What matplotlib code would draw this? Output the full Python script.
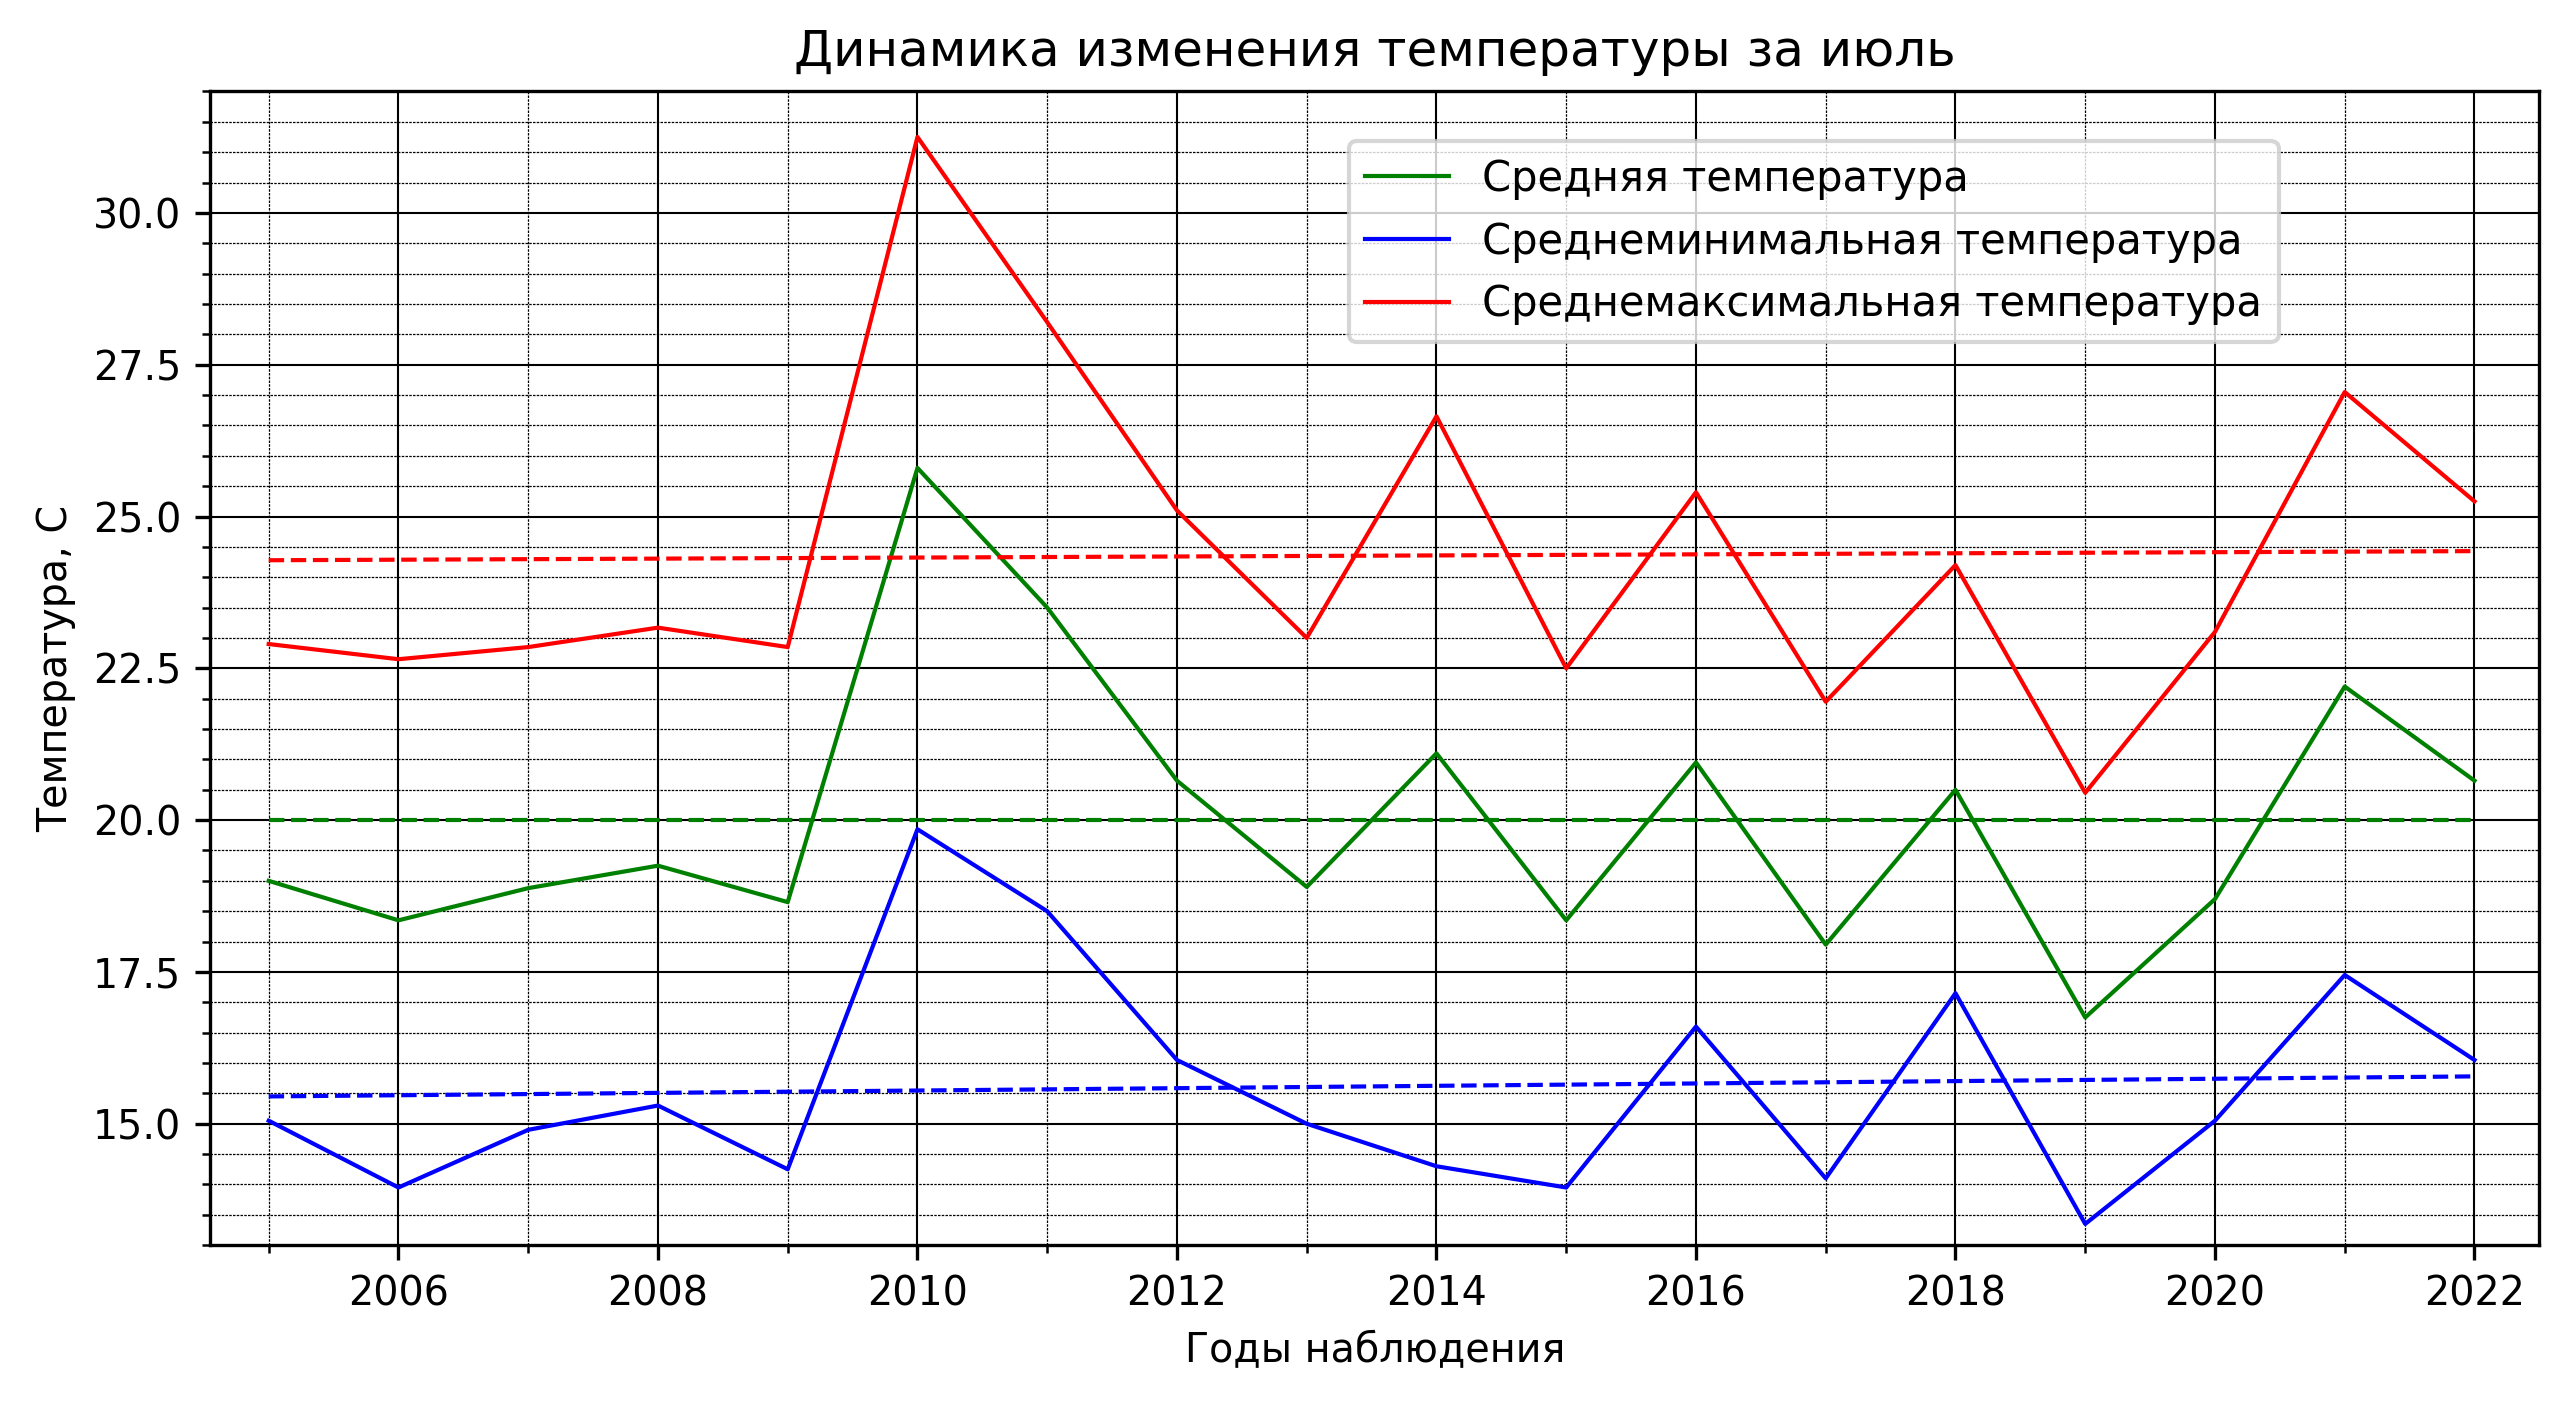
import matplotlib.pyplot as plt
from matplotlib.ticker import MultipleLocator

years = list(range(2005, 2023))
t_mean = [19.0, 18.35, 18.88, 19.25, 18.65, 25.8, 23.5, 20.65, 18.9, 21.1,
          18.35, 20.95, 17.95, 20.5, 16.75, 18.7, 22.2, 20.65]
t_min = [15.05, 13.95, 14.9, 15.3, 14.25, 19.85, 18.5, 16.05, 15.0, 14.3,
         13.95, 16.6, 14.1, 17.15, 13.35, 15.05, 17.45, 16.05]
t_max = [22.9, 22.65, 22.85, 23.17, 22.85, 31.25, 28.2, 25.1, 23.0, 26.65,
         22.5, 25.4, 21.95, 24.2, 20.45, 23.1, 27.05, 25.25]
# trend lines (start, end)
trend_mean = [20.0, 20.0]
trend_min = [15.45, 15.78]
trend_max = [24.28, 24.43]

fig, ax = plt.subplots(figsize=(8.55, 4.69), dpi=300)

ax.plot(years, t_mean, color='green', linewidth=1, label='Средняя температура')
ax.plot(years, t_min, color='blue', linewidth=1, label='Среднеминимальная температура')
ax.plot(years, t_max, color='red', linewidth=1, label='Среднемаксимальная температура')
ends = [years[0], years[-1]]
ax.plot(ends, trend_mean, color='green', linestyle='--', linewidth=1)
ax.plot(ends, trend_min, color='blue', linestyle='--', linewidth=1)
ax.plot(ends, trend_max, color='red', linestyle='--', linewidth=1)

ax.xaxis.set_major_locator(MultipleLocator(2))
ax.xaxis.set_minor_locator(MultipleLocator(1))
ax.yaxis.set_major_locator(MultipleLocator(2.5))
ax.yaxis.set_minor_locator(MultipleLocator(0.5))
ax.grid(which='major', color='black', linestyle='-', linewidth=0.5)
ax.grid(which='minor', color='black', linestyle='--', linewidth=0.3, dashes=(2, 1))
ax.set_xlim(2004.55, 2022.5)
ax.set_ylim(13.0, 32.0)

ax.set_title('Динамика изменения температуры за июль', fontsize=12)
ax.set_xlabel('Годы наблюдения', fontsize=9.5)
ax.set_ylabel('Температура, С', fontsize=9.5)
ax.tick_params(labelsize=9.5)
ax.legend(loc='upper right', bbox_to_anchor=(0.897, 0.975), fontsize=10)

plt.subplots_adjust(top=0.935, bottom=0.115, left=0.082, right=0.99)
plt.savefig('out.png')
